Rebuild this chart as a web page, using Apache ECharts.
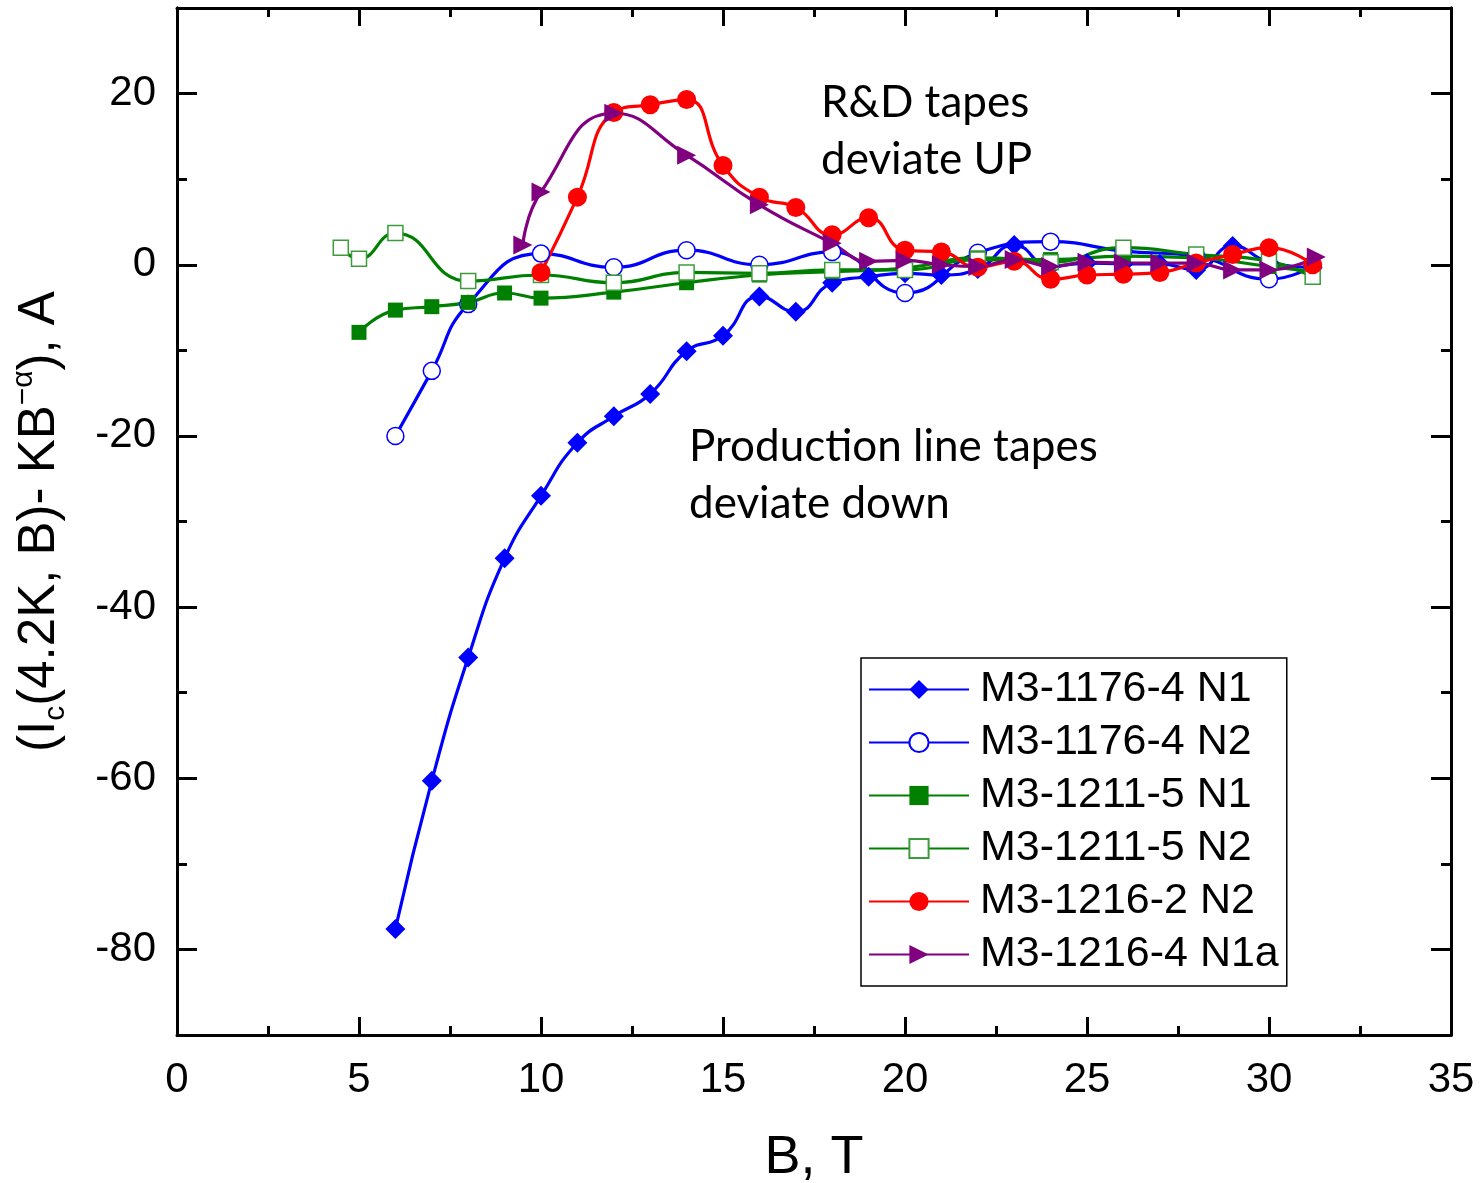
<!DOCTYPE html>
<html><head><meta charset="utf-8">
<script src="https://cdn.jsdelivr.net/npm/echarts@6/dist/echarts.min.js"></script>
<style>html,body{margin:0;padding:0;background:#fff}#c{width:1482px;height:1183px}</style>
</head><body><div id="c"></div>
<script>
// ---- data ----
const yMajor = [-80, -60, -40, -20, 0, 20];
const yMinor = [-70, -50, -30, -10, 10];

const n1x = [6,7,8,9,10,11,12,13,14,15,16,17,18,19,20,21,22,23,24,25,26,27,28,29,30,31.2];
const n1y = [-77.6,-60.3,-45.9,-34.3,-27.0,-20.8,-17.7,-15.1,-10.1,-8.3,-3.7,-5.5,-2.1,-1.4,-1.0,-1.2,-0.5,2.3,-0.2,0.2,0.1,0.1,-0.6,2.2,0.3,-0.3];

const n2x = [6,7,8,10,12,14,16,18,20,22,24,26,28,30,31.2];
const n2y = [-20.0,-12.4,-4.6,1.3,-0.3,1.7,0.0,1.5,-3.3,1.4,2.7,1.6,1.0,-1.7,-0.2];

const g1x = [5,6,7,8,9,10,12,14,16,18,20,22,24,26,28,30,31.2];
const g1y = [-7.9,-5.3,-4.9,-4.4,-3.3,-3.9,-3.2,-2.1,-1.2,-0.8,-0.4,0.8,0.6,1.0,0.8,-0.2,-0.8];

const g2x = [4.5,5,6,8,10,12,14,16,18,20,22,24,26,28,30,31.2];
const g2y = [2.0,0.7,3.7,-1.9,-1.2,-2.1,-0.9,-1.0,-0.6,-0.6,0.6,0.3,2.0,1.2,0.4,-1.4];

const rx = [10,11,12,13,14,15,16,17,18,19,20,21,22,23,24,25,26,27,28,29,30,31.2];
const ry = [-0.9,7.9,17.8,18.7,19.3,11.6,7.9,6.7,3.5,5.5,1.7,1.5,-0.3,0.4,-1.7,-1.2,-1.1,-0.9,0.2,1.2,2.0,0.0];

const px = [9.5,10,12,14,16,18,19,20,21,22,23,24,25,26,27,28,29,30,31.3];
const py = [2.3,8.5,17.7,12.8,7.0,2.5,0.4,0.5,0.0,-0.2,0.6,-0.2,0.3,0.2,0.2,0.2,-0.6,-0.6,0.9];

const names = ['M3-1176-4 N1','M3-1176-4 N2','M3-1211-5 N1','M3-1211-5 N2','M3-1216-2 N2','M3-1216-4 N1a'];

function zip(a,b){return a.map((v,i)=>[v,b[i]]);}

const chart = echarts.init(document.getElementById('c'), null, {renderer:'canvas'});
const black = '#000';
const FONT = '"Liberation Sans", Arial, sans-serif';
const NOTE = '44px Lato, "Open Sans", sans-serif';

function yAx(pos, vals, len, labels, name){
  const o = {
    type:'value', position:pos, min:-90, max:30,
    axisLine:{show:true, onZero:false, lineStyle:{color:black, width:3}},
    axisTick:{show:true, inside:true, length:len, customValues:vals, lineStyle:{color:black, width:3}},
    axisLabel:{show:labels, customValues:vals, fontSize:42, color:black, margin:21, fontFamily:FONT},
    splitLine:{show:false}
  };
  if(name){
    o.name = '(I{sub|c}(4.2K, B)- KB{sup|\u2212\u03b1}), A';
    o.nameLocation='middle'; o.nameGap=106; o.nameRotate=90;
    o.nameTextStyle={fontSize:51, color:black, fontFamily:FONT, lineHeight:62,
      rich:{sub:{fontSize:30, lineHeight:30, verticalAlign:'bottom', fontFamily:FONT, color:black},
            sup:{fontSize:30, lineHeight:30, verticalAlign:'top', fontFamily:FONT, color:black}}};
  }
  return o;
}
function xAx(pos, labels){
  const o = {
    type:'value', position:pos, min:0, max:35, interval:5,
    axisLine:{show:true, onZero:false, lineStyle:{color:black, width:3}},
    axisTick:{show:true, inside:true, length:18, lineStyle:{color:black, width:3}},
    minorTick:{show:true, splitNumber:2, length:9, lineStyle:{color:black, width:3}},
    axisLabel:{show:labels, fontSize:42, color:black, margin:24, fontFamily:FONT},
    splitLine:{show:false}, minorSplitLine:{show:false}
  };
  if(labels){
    o.name='B, T'; o.nameLocation='middle'; o.nameGap=96;
    o.nameTextStyle={fontSize:54, color:black, fontFamily:FONT};
  }
  return o;
}

function ser(i, x, y, symbol, size, lineColor, itemStyle, rot){
  return {
    name:names[i], type:'line', xAxisIndex:0, yAxisIndex:0,
    data:zip(x,y), smooth:0.5, symbol:symbol, symbolSize:size, symbolRotate:rot||0,
    showAllSymbol:true,
    lineStyle:{color:lineColor, width:3.2},
    itemStyle:itemStyle, emphasis:{disabled:true}
  };
}

chart.setOption({
  animation:false,
  backgroundColor:'#fff',
  grid:{left:177, right:31, top:8, bottom:148, containLabel:false, outerBoundsMode:'none'},
  xAxis:[xAx('bottom', true), xAx('top', false)],
  yAxis:[yAx('left', yMajor, 20, true, true), yAx('left', yMinor, 10, false),
         yAx('right', yMajor, 20, false), yAx('right', yMinor, 10, false)],
  legend:{
    orient:'vertical', left:861, top:658,
    itemWidth:100, itemHeight:24, itemGap:10,
    padding:[10,8,10,7],
    backgroundColor:'#fff', borderColor:black, borderWidth:1.5, borderRadius:0,
    textStyle:{fontSize:43, color:black, fontFamily:FONT, lineHeight:42, padding:[0,0,0,6]},
    data:names
  },
  graphic:[
    {type:'text', left:821, top:74, style:{text:'R&D tapes\ndeviate UP', font:NOTE, lineHeight:57, fill:black}},
    {type:'text', left:689, top:418, style:{text:'Production line tapes\ndeviate down', font:NOTE, lineHeight:57, fill:black}}
  ],
  series:[
    ser(0, n1x, n1y, 'diamond', 20, '#0000ff', {color:'#0000ff'}),
    ser(1, n2x, n2y, 'circle', 17, '#0000ff', {color:'#fff', borderColor:'#0000ff', borderWidth:1.5}),
    ser(2, g1x, g1y, 'rect', 15, '#008000', {color:'#008000'}),
    ser(3, g2x, g2y, 'rect', 15, '#008000', {color:'#fff', borderColor:'#3c9c3c', borderWidth:1.5}),
    ser(4, rx, ry, 'circle', 19, '#ff0000', {color:'#ff0000'}),
    ser(5, px, py, 'triangle', 19, '#800080', {color:'#800080'}, -90)
  ]
});
</script>
</body></html>
